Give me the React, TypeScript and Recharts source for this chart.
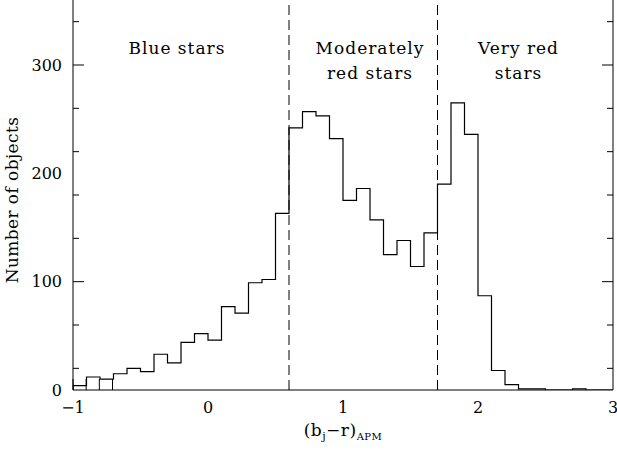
import { ComposedChart, Line, XAxis, YAxis, ReferenceLine, ReferenceDot } from "recharts";

const FONT = "'DejaVu Serif', serif";

// histogram, 0.1-wide bins from -1 to 3
const binStart = -1;
const binWidth = 0.1;
const counts = [
  4, 12, 10, 15, 20, 17, 33, 25, 44, 52,
  46, 77, 71, 99, 102, 163, 242, 257, 253, 232,
  175, 186, 157, 125, 138, 114, 145, 190, 265, 236,
  87, 18, 5, 1, 1, 0, 0, 1, 0, 0,
];

const xMajorTicks = [-1, 0, 1, 2, 3];
const xMinorTicks = [
  -0.8, -0.6, -0.4, -0.2, 0.2, 0.4, 0.6, 0.8, 1.2, 1.4, 1.6, 1.8, 2.2, 2.4, 2.6, 2.8,
];
const yMajorTicks = [0, 100, 200, 300];
const yMinorTicks = [20, 40, 60, 80, 120, 140, 160, 180, 220, 240, 260, 280, 320, 340];

const dividers = [0.6, 1.7];
const regionLabels = [
  { x: -0.23, y: 316, text: "Blue stars" },
  { x: 1.2, y: 316, text: "Moderately" },
  { x: 1.2, y: 293, text: "red stars" },
  { x: 2.3, y: 316, text: "Very red" },
  { x: 2.3, y: 293, text: "stars" },
];

// step points: leading zero so the first bin gets its left wall
const steps = [
  { x: binStart, y: 0 },
  ...counts.map((c, i) => ({ x: binStart + i * binWidth, y: c })),
  { x: 3, y: counts[counts.length - 1] },
];

const xAllTicks = [...xMajorTicks, ...xMinorTicks].sort((a, b) => a - b);
const yAllTicks = [...yMajorTicks, ...yMinorTicks].sort((a, b) => a - b);

const fmt = (v: number) => String(v).replace("-", "\u2212");

// inward tick mark, long for majors
const InTick = (props: any) => {
  const { x, y, payload, dir, majors } = props;
  const len = majors.includes(payload.value) ? 11 : 6;
  const dx = dir === "right" ? len : dir === "left" ? -len : 0;
  const dy = dir === "up" ? -len : 0;
  return <line x1={x} y1={y} x2={x + dx} y2={y + dy} stroke="#000" strokeWidth={1} />;
};

const XLabel = (props: any) => {
  const vb = props.viewBox;
  return (
    <text x={vb.x + vb.width / 2} y={vb.y + 46} textAnchor="middle" fontSize={17} letterSpacing={0.5} fill="#000" fontFamily={FONT}>
      (b<tspan fontSize={11} dy={4}>j</tspan>
      <tspan dy={-4}>{"\u2212r)"}</tspan>
      <tspan fontSize={10} dy={4}>APM</tspan>
    </text>
  );
};

const YLabel = (props: any) => {
  const vb = props.viewBox;
  const cx = vb.x + 12;
  const cy = vb.y + 200;
  return (
    <text x={cx} y={cy} transform={`rotate(-90 ${cx} ${cy})`} textAnchor="middle" dominantBaseline="central" fontSize={17} letterSpacing={0.4} fill="#000" fontFamily={FONT}>
      Number of objects
    </text>
  );
};

const axisStroke = { stroke: "#000", strokeWidth: 1 };

export default function App() {
  return (
    <div style={{ position: "absolute", left: 0, top: 0, background: "#fff" }}>
      <ComposedChart
        width={617}
        height={450}
        data={steps}
        margin={{ top: 0, right: 4, bottom: 0, left: 0 }}
        style={{ fontFamily: FONT }}
      >
        {/* label axes */}
        <XAxis
          dataKey="x"
          type="number"
          domain={[-1, 3]}
          allowDataOverflow
          ticks={xMajorTicks}
          tickFormatter={fmt}
          height={60}
          tickLine={false}
          axisLine={false}
          tickSize={0}
          tickMargin={12}
          tick={{ fill: "#000", fontSize: 16 }}
          label={<XLabel />}
        />
        <YAxis
          type="number"
          domain={[0, 360]}
          allowDataOverflow
          ticks={yMajorTicks}
          width={73}
          tickLine={false}
          axisLine={false}
          tickSize={0}
          tickMargin={11}
          tick={{ fill: "#000", fontSize: 16 }}
          label={<YLabel />}
        />
        {/* frame with inward ticks */}
        <XAxis
          xAxisId="frameB"
          type="number"
          domain={[-1, 3]}
          allowDataOverflow
          ticks={xAllTicks}
          mirror
          tickSize={0}
          tickMargin={0}
          tickLine={false}
          axisLine={axisStroke}
          tick={(p: any) => <InTick {...p} dir="up" majors={xMajorTicks} />}
        />
        <YAxis
          yAxisId="frameL"
          type="number"
          domain={[0, 360]}
          allowDataOverflow
          ticks={yAllTicks}
          mirror
          tickSize={0}
          tickMargin={0}
          tickLine={false}
          axisLine={axisStroke}
          tick={(p: any) => <InTick {...p} dir="right" majors={yMajorTicks} />}
        />
        <YAxis
          yAxisId="frameR"
          orientation="right"
          type="number"
          domain={[0, 360]}
          allowDataOverflow
          ticks={yAllTicks}
          mirror
          tickSize={0}
          tickMargin={0}
          tickLine={false}
          axisLine={axisStroke}
          tick={(p: any) => <InTick {...p} dir="left" majors={yMajorTicks} />}
        />

        {dividers.map((d) => (
          <ReferenceLine key={d} x={d} stroke="#000" strokeWidth={1} strokeDasharray="10 5" />
        ))}
        {regionLabels.map((r, i) => (
          <ReferenceDot
            key={i}
            x={r.x}
            y={r.y}
            r={0}
            fill="none"
            stroke="none"
            label={{ value: r.text, position: "center", fill: "#000", fontSize: 17, letterSpacing: 1, fontFamily: FONT }}
          />
        ))}
        <Line
          type="stepAfter"
          dataKey="y"
          stroke="#000"
          strokeWidth={1.2}
          dot={false}
          isAnimationActive={false}
        />
      </ComposedChart>
    </div>
  );
}
